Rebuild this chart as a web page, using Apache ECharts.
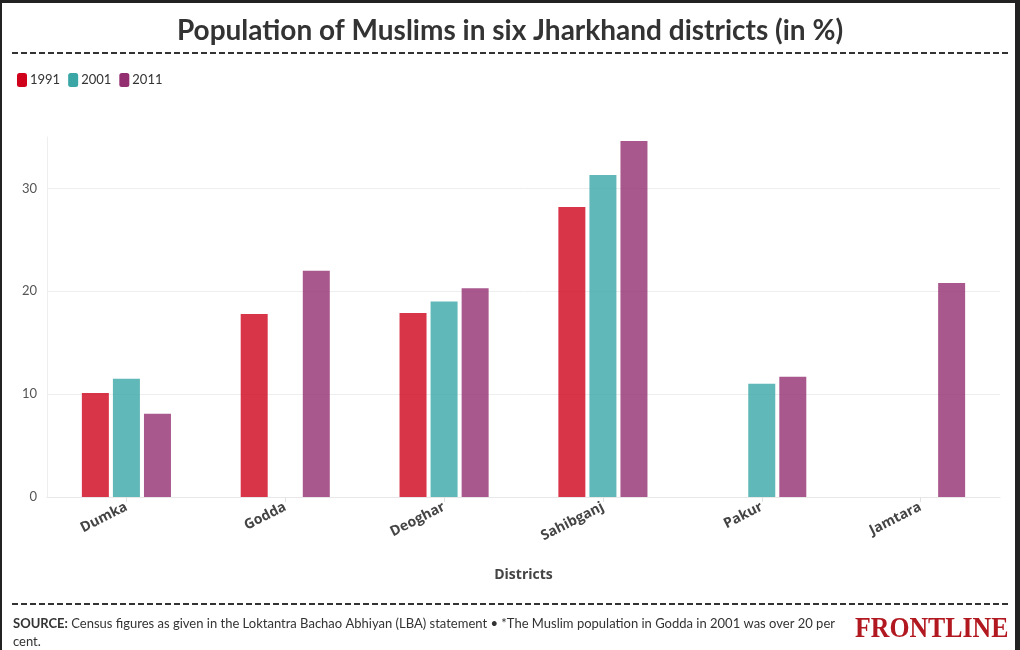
<!DOCTYPE html>
<html><head><meta charset="utf-8">
<script src="https://cdn.jsdelivr.net/npm/echarts@6/dist/echarts.min.js"></script>
<style>html,body{margin:0;padding:0;background:#fff}#c{width:1020px;height:650px}</style>
</head><body><div id="c"></div>
<script>
var districts = ['Dumka', 'Godda', 'Deoghar', 'Sahibganj', 'Pakur', 'Jamtara'];
var years = ['1991', '2001', '2011'];
var v1991 = [10.1, 17.8, 17.9, 28.2, null, null];
var v2001 = [11.5, null, 19.0, 31.3, 11.0, null];
var v2011 = [8.1, 22.0, 20.3, 34.6, 11.7, 20.8];
var yTicks = [0, 10, 20, 30];
var colors = ['#d0021b', '#3aa6a6', '#932e70'];

var chart = echarts.init(document.getElementById('c'));
var font = 'Lato';
function ser(name, data, color) {
  return {
    name: name, type: 'bar', data: data, barWidth: 27, barGap: '15%',
    itemStyle: { color: color, opacity: 0.8 }
  };
}
chart.setOption({
  animation: false,
  textStyle: { fontFamily: font },
  title: {
    text: 'Population of Muslims in six Jharkhand districts (in %)',
    left: 'center', top: 12,
    textStyle: { fontFamily: font, fontWeight: 'bold', fontSize: 28, color: '#333' }
  },
  legend: {
    left: 12, top: 68, itemWidth: 10, itemHeight: 14, itemGap: 8,
    icon: 'roundRect',
    itemStyle: { opacity: 1 },
    textStyle: { fontFamily: font, fontSize: 13, color: '#333', padding: [0, 0, 0, -2] },
    data: years
  },
  grid: { left: 47, right: 20, top: 137, bottom: 153, containLabel: false },
  xAxis: {
    type: 'category', data: districts,
    name: 'Districts', nameLocation: 'middle', nameGap: 71,
    nameTextStyle: { fontFamily: 'Open Sans', fontWeight: 'bold', fontSize: 14, color: '#444' },
    axisLine: { show: true, lineStyle: { color: '#e8e8e8' } },
    axisTick: { show: true, alignWithLabel: true, length: 5, lineStyle: { color: '#e0e0e0' } },
    axisLabel: { rotate: 27, fontFamily: 'Open Sans', fontWeight: 'bold', fontSize: 14, color: '#444', margin: 9 }
  },
  yAxis: {
    type: 'value', min: 0, max: 35, interval: 10,
    axisLine: { show: true, lineStyle: { color: '#eeeeee' } },
    axisTick: { show: false },
    axisLabel: {
      fontFamily: font, fontSize: 13, color: '#555', margin: 10,
      showMaxLabel: false,
      formatter: function (v) { return yTicks.indexOf(v) >= 0 ? String(v) : ''; }
    },
    splitLine: { show: true, lineStyle: { color: ['#eeeeee', '#eeeeee', '#eeeeee', '#eeeeee', 'rgba(0,0,0,0)'] } }
  },
  series: [ser(years[0], v1991, colors[0]), ser(years[1], v2001, colors[1]), ser(years[2], v2011, colors[2])],
  graphic: [
    { type: 'line', shape: { x1: 12, y1: 53, x2: 1008, y2: 53 }, style: { stroke: '#333', lineWidth: 2, lineDash: [6, 3] } },
    { type: 'line', shape: { x1: 12, y1: 604, x2: 1008, y2: 604 }, style: { stroke: '#333', lineWidth: 2, lineDash: [6, 3] } },
    { type: 'text', left: 13, top: 615, style: {
        text: '{b|SOURCE:} Census figures as given in the Loktantra Bachao Abhiyan (LBA) statement • *The Muslim population in Godda in 2001 was over 20 per\ncent.',
        font: '13px ' + font, fill: '#333', lineHeight: 18,
        rich: { b: { fontWeight: 'bold', fontFamily: font, fontSize: 13, fill: '#333' } }
      } },
    { type: 'text', x: 855, y: 614, scaleX: 0.86, style: {
        text: 'FRONTLINE', font: 'bold 30px "Liberation Serif"', fill: '#b2181f'
      } },
    { type: 'rect', shape: { x: 0, y: 0, width: 1020, height: 3 }, style: { fill: '#222' } },
    { type: 'rect', shape: { x: 0, y: 0, width: 2, height: 650 }, style: { fill: '#222' } },
    { type: 'rect', shape: { x: 1015, y: 0, width: 5, height: 650 }, style: { fill: '#222' } }
  ]
});
</script></body></html>
